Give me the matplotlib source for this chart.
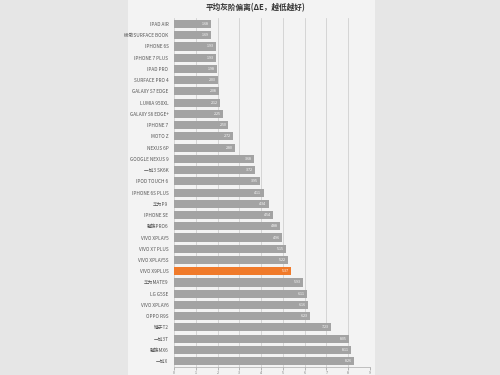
import matplotlib.pyplot as plt
import matplotlib.patches as mpatches

plt.rcParams['font.family'] = ['Noto Sans CJK SC', 'DejaVu Sans']

# devices, top to bottom
devices = ['IPAD AIR', '微软SURFACE BOOK', 'IPHONE 6S', 'IPHONE 7 PLUS', 'IPAD PRO',
           'SURFACE PRO 4', 'GALAXY S7 EDGE', 'LUMIA 950XL', 'GALAXY S6 EDGE+', 'IPHONE 7',
           'MOTO Z', 'NEXUS 6P', 'GOOGLE NEXUS 9', '一加3 SK6K', 'IPOD TOUCH 6',
           'IPHONE 6S PLUS', '华为P9', 'IPHONE SE', '魅族PRO6', 'VIVO XPLAY5',
           'VIVO X7 PLUS', 'VIVO XPLAY5S', 'VIVO X9PLUS', '华为MATE9', 'LG G5SE',
           'VIVO XPLAY6', 'OPPO R9S', '锤子T2', '一加3T', '魅族MX6', '一加X']
delta_e = [1.68, 1.69, 1.93, 1.93, 1.98, 2.03, 2.08, 2.12, 2.25, 2.50,
           2.72, 2.80, 3.68, 3.72, 3.95, 4.11, 4.34, 4.54, 4.88, 4.96,
           5.15, 5.22, 5.37, 5.93, 6.11, 6.16, 6.23, 7.23, 8.05, 8.11, 8.26]
highlight = 'VIVO X9PLUS'
xticks = list(range(10))

fig = plt.figure(figsize=(5, 3.75), dpi=100, facecolor='#e6e6e6')
# lighter panel behind the chart
fig.patches.append(mpatches.Rectangle((0.255, 0.0), 0.495, 1.0, transform=fig.transFigure,
                                      facecolor='#f3f3f3', edgecolor='none', zorder=-5))
ax = fig.add_axes([0.348, 0.022, 0.392, 0.929])
ax.set_facecolor('#f3f3f3')

colors = ['#f07a2a' if d == highlight else '#a3a3a3' for d in devices]
y = range(len(devices))
bars = ax.barh(y, delta_e, height=0.72, color=colors, zorder=2)
for b, v in zip(bars, delta_e):
    ax.text(v - 0.1, b.get_y() + b.get_height() / 2, f'{v:.2f}', ha='right', va='center',
            fontsize=2.6, color='white', zorder=3)

ax.set_ylim(len(devices) - 0.5, -0.5)
ax.set_xlim(0, 9)
ax.set_yticks(list(y))
ax.set_yticklabels(devices, fontsize=3.4, color='#555555')
ax.set_xticks(xticks)
ax.set_xticklabels([str(t) for t in xticks], fontsize=2.6, color='#777777')
ax.tick_params(axis='y', length=0, pad=4)
ax.tick_params(axis='x', length=2, width=0.5, color='#999999', pad=1)
ax.grid(axis='x', color='#d0d0d0', linewidth=0.6, zorder=0)
for s in ['top', 'right', 'left']:
    ax.spines[s].set_visible(False)
ax.spines['bottom'].set_color('#aaaaaa')
ax.spines['bottom'].set_linewidth(0.5)

fig.text(0.51, 0.978, '平均灰阶偏离(ΔE，越低越好)', ha='center', va='center',
         fontsize=5.5, fontweight='bold', color='#333333')

fig.savefig('out.png', dpi=100, facecolor=fig.get_facecolor())
